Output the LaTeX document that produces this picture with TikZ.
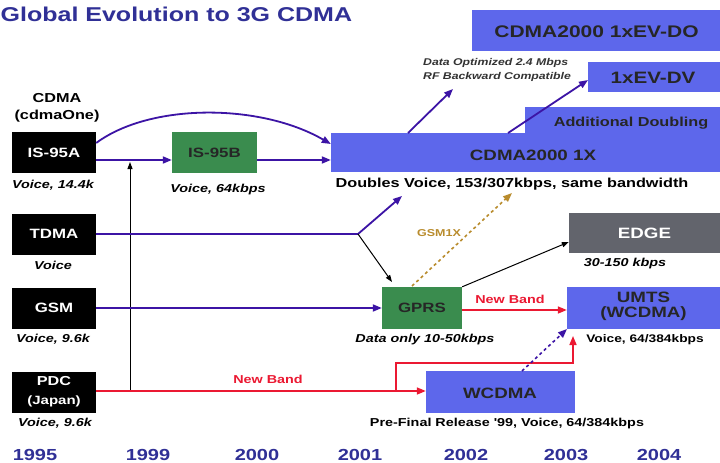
\documentclass[tikz,border=0pt]{standalone}
\usepackage{fontspec}
\setmainfont{Liberation Sans}
\newfontfamily\wide[FakeStretch=1.25]{Liberation Sans}
\usetikzlibrary{arrows.meta}
\definecolor{boxblue}{RGB}{93,103,235}
\definecolor{boxgreen}{RGB}{58,140,78}
\definecolor{edgegray}{RGB}{98,100,108}
\definecolor{navy}{RGB}{48,48,150}
\definecolor{parr}{RGB}{60,20,165}
\definecolor{redl}{RGB}{235,25,50}
\definecolor{goldl}{RGB}{185,140,45}
\newcommand\fsz[2]{\fontsize{#1}{#2}\selectfont}
\tikzset{
  blk/.style={fill=black, text=white, minimum width=84pt, minimum height=41pt, inner sep=0pt,
    font=\wide\bfseries\fsz{13.5}{15}, align=center},
  bluebox/.style={fill=boxblue, inner sep=0pt},
  greenbox/.style={fill=boxgreen, text=black!85, inner sep=0pt, minimum width=84pt, minimum height=41pt,
    font=\wide\bfseries\fsz{13.5}{15}},
  boxtxt/.style={inner sep=0pt, text=black!85, font=\wide\bfseries\fsz{15}{15}, align=center},
  lbl/.style={inner sep=0pt, font=\wide\bfseries\itshape\fsz{11.5}{13}},
  plain/.style={inner sep=0pt, font=\wide\bfseries\fsz{11.5}{13}},
  yr/.style={inner sep=0pt, text=navy, font=\wide\bfseries\fsz{16}{18}},
  parrow/.style={draw=parr, line width=1.8pt, -{Triangle[length=9pt,width=7pt]}},
  pline/.style={draw=parr, line width=1.8pt},
  barrow/.style={draw=black, line width=1pt, -{Triangle[length=7pt,width=5pt]}},
  rline/.style={draw=redl, line width=1.6pt},
  rarrow/.style={draw=redl, line width=1.6pt, -{Triangle[length=9pt,width=7pt]}},
}
\begin{document}
\begin{tikzpicture}[x=1pt,y=-1pt]
\useasboundingbox[fill=white] (0,0) rectangle (720,463);
% title
\node[anchor=west, inner sep=0pt, text=navy, font=\wide\bfseries\fsz{20}{22}] (title) at (0.5,14) {Global Evolution to 3G CDMA};
% left boxes
\node[inner sep=0pt, align=center, font=\wide\bfseries\fsz{13}{17}] (cdmahead) at (57,108) {CDMA\\(cdmaOne)};
\node[blk] (is95a) at (54,152.5) {IS-95A};
\node[blk] (tdma) at (54,234) {TDMA};
\node[blk] (gsm) at (54,308) {GSM};
\node[blk, font=\wide\bfseries\fsz{13}{19}] (pdc) at (54,392) {PDC\\{\fsz{12}{12}(Japan)}};
\node[lbl] (l1) at (53,185) {Voice, 14.4k};
\node[lbl] (l2) at (53,265) {Voice};
\node[lbl] (l3) at (53,339) {Voice, 9.6k};
\node[lbl] (l4) at (55,423) {Voice, 9.6k};
% IS-95B
\node[greenbox, minimum width=85pt] (is95b) at (214.5,152.5) {IS-95B};
\node[lbl] (l5) at (218,190) {Voice, 64kbps};
% CDMA2000 family
\node[bluebox, minimum width=195pt, minimum height=26pt] (addl) at (622.5,120) {};
\node[bluebox, minimum width=389pt, minimum height=39pt] (c1x) at (525.5,152.5) {};
\node[boxtxt] (c1xt) at (533,155) {CDMA2000 1X};
\node[boxtxt, font=\wide\bfseries\fsz{13}{13}] (addlt) at (631,123) {Additional Doubling};
\node[bluebox, minimum width=132pt, minimum height=30pt] (evdv) at (654,77) {};
\node[boxtxt, font=\wide\bfseries\fsz{16.5}{16.5}] (evdvt) at (653,78) {1xEV-DV};
\node[bluebox, minimum width=248pt, minimum height=41pt] (evdo) at (596,30.5) {};
\node[boxtxt, font=\wide\bfseries\fsz{16.8}{16.8}] (evdot) at (596.5,32) {CDMA2000 1xEV-DO};
\node[inner sep=0pt, anchor=west, align=left, font=\wide\bfseries\itshape\fsz{9.8}{14}, text=black!80] (dataopt) at (423,70) {Data Optimized 2.4 Mbps\\RF Backward Compatible};
\node[plain, font=\wide\bfseries\fsz{13}{13}] (dbl) at (512,184) {Doubles Voice, 153/307kbps, same bandwidth};
% GSM path boxes
\node[greenbox, minimum width=80pt, minimum height=42pt] (gprs) at (422,308) {GPRS};
\node[lbl] (l6) at (425,340) {Data only 10-50kbps};
\node[fill=edgegray, text=white, inner sep=0pt, minimum width=151pt, minimum height=40pt, font=\wide\bfseries\fsz{15}{15}] (edge) at (644.5,233) {EDGE};
\node[lbl] (l7) at (625,264) {30-150 kbps};
\node[bluebox, minimum width=153pt, minimum height=42pt] (umts) at (643.5,308) {};
\node[boxtxt] (umtst) at (643.5,306) {UMTS\\(WCDMA)};
\node[plain, font=\wide\bfseries\fsz{11}{13}] (l8) at (645,340) {Voice, 64/384kbps};
\node[bluebox, minimum width=149pt, minimum height=42pt] (wcdma) at (500.5,392) {};
\node[boxtxt] (wcdmat) at (500,393) {WCDMA};
\node[plain] (l9) at (507,424) {Pre-Final Release '99, Voice, 64/384kbps};
\node[plain, text=redl] (nb1) at (268,379) {New Band};
\node[plain, text=redl] (nb2) at (510,299) {New Band};
\node[plain, text=goldl, font=\wide\bfseries\fsz{10}{10}] (gsm1x) at (439,233) {GSM1X};
% years
\node[yr] (y1) at (35,455) {1995};
\node[yr] (y2) at (148,455) {1999};
\node[yr] (y3) at (257,455) {2000};
\node[yr] (y4) at (360,455) {2001};
\node[yr] (y5) at (466,455) {2002};
\node[yr] (y6) at (566,455) {2003};
\node[yr] (y7) at (659,455) {2004};
% coordinates
\coordinate (vbot) at (130,391);
\coordinate (vtop) at (130,162);
\coordinate (tj) at (358,234);
\coordinate (tjend) at (402,196);
\coordinate (tjgprs) at (392,282);
\coordinate (g1xs) at (412,286);
\coordinate (g1xe) at (512,193);
\coordinate (rb) at (396,391);
\coordinate (rc) at (573,363);
\coordinate (re) at (573,336);
\coordinate (ws) at (522,371);
\coordinate (we) at (567,329);
\coordinate (dos) at (408,133);
\coordinate (doe) at (453,89);
\coordinate (dvs) at (508,133);
\coordinate (dve) at (588,80);
% connectors
\draw[parrow] (is95a.east |- 0,143) .. controls (150,103) and (260,103) .. (c1x.west |- 0,144);
\draw[parrow] (is95a.east |- 0,160) -- (is95b.west |- 0,160);
\draw[parrow] (is95b.east |- 0,160) -- (c1x.west |- 0,160);
\draw[barrow] (vbot) -- (vtop);
\draw[pline] (tdma.east) -- (tj);
\draw[parrow] (tj) -- (tjend);
\draw[barrow] (tj) -- (tjgprs);
\draw[parrow] (gsm.east) -- (gprs.west);
\draw[draw=goldl, line width=1.6pt, dashed, -{Triangle[length=9pt,width=7pt]}] (g1xs) -- (g1xe);
\draw[barrow] (gprs.north east) -- (edge.west |- 0,242);
\draw[rarrow] (gprs.east |- 0,310) -- (umts.west |- 0,310);
\draw[rarrow] (pdc.east |- 0,391) -- (wcdma.west |- 0,391);
\draw[rarrow] (rb) |- (rc) -- (re);
\draw[draw=parr, line width=1.6pt, dashed, -{Triangle[length=9pt,width=7pt]}] (ws) -- (we);
\draw[parrow] (dos) -- (doe);
\draw[parrow] (dvs) -- (dve);
\end{tikzpicture}
\end{document}
